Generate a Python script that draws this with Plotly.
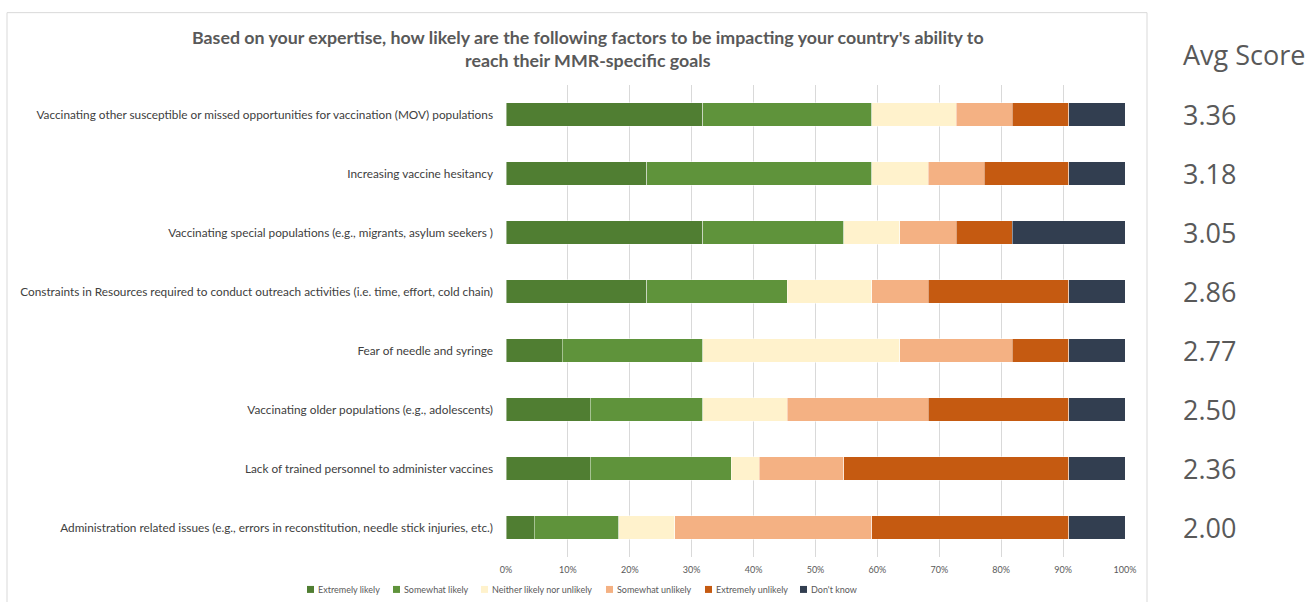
import plotly.graph_objects as go

# Survey factors (top to bottom as displayed)
factors = [
    "Vaccinating other susceptible or missed opportunities for vaccination (MOV) populations",
    "Increasing vaccine hesitancy",
    "Vaccinating special populations (e.g., migrants, asylum seekers )",
    "Constraints in Resources required to conduct outreach activities (i.e. time, effort, cold chain)",
    "Fear of needle and syringe",
    "Vaccinating older populations (e.g., adolescents)",
    "Lack of trained personnel to administer vaccines",
    "Administration related issues (e.g., errors in reconstitution, needle stick injuries, etc.)",
]

# Number of respondents choosing each answer (22 respondents per factor)
respondents = 22
extremely_likely = [7, 5, 7, 5, 2, 3, 3, 1]
somewhat_likely = [6, 8, 5, 5, 5, 4, 5, 3]
neither = [3, 2, 2, 3, 7, 3, 1, 2]
somewhat_unlikely = [2, 2, 2, 2, 4, 5, 3, 7]
extremely_unlikely = [2, 3, 2, 5, 2, 5, 8, 7]
dont_know = [2, 2, 4, 2, 2, 2, 2, 2]

avg_scores = ["3.36", "3.18", "3.05", "2.86", "2.77", "2.50", "2.36", "2.00"]

series = [
    ("Extremely likely", extremely_likely, "#507E32"),
    ("Somewhat likely", somewhat_likely, "#5F933B"),
    ("Neither likely nor unlikely", neither, "#FFF2CC"),
    ("Somewhat unlikely", somewhat_unlikely, "#F4B183"),
    ("Extremely unlikely", extremely_unlikely, "#C55A11"),
    ("Don't know", dont_know, "#323E50"),
]

# Figure geometry (pixels)
W, H = 1307, 602
PLOT_L, PLOT_R, PLOT_T, PLOT_B = 506, 1125, 84.5, 557.5


def px_x(px):
    return (px - PLOT_L) / (PLOT_R - PLOT_L)


def px_y(py):
    return (PLOT_B - py) / (PLOT_B - PLOT_T)


fig = go.Figure()
for name, counts, color in series:
    fig.add_trace(go.Bar(
        y=factors,
        x=[c / respondents for c in counts],
        name=name,
        orientation="h",
        showlegend=False,
        marker=dict(color=color, line=dict(color="rgba(255,255,255,0.55)", width=0.8)),
        hovertemplate="%{y}<br>" + name + ": %{x:.1%}<extra></extra>",
    ))

label_font = dict(family="Lato, 'Open Sans', sans-serif", size=11.8, color="#404040")
small_font = dict(family="Lato, sans-serif", size=9, color="#595959")

fig.update_layout(
    barmode="stack",
    bargap=0.6,
    width=W,
    height=H,
    margin=dict(l=PLOT_L, r=W - PLOT_R, t=PLOT_T, b=H - PLOT_B, autoexpand=False),
    paper_bgcolor="white",
    plot_bgcolor="white",
    font=label_font,
    xaxis=dict(
        range=[0, 1],
        tickvals=[i / 10 for i in range(11)],
        tickformat=".0%",
        showgrid=True,
        gridcolor="#D9D9D9",
        gridwidth=1,
        zeroline=False,
        showline=False,
        tickfont=small_font,
        ticklabelstandoff=6,
        fixedrange=True,
    ),
    yaxis=dict(
        autorange="reversed",
        categoryorder="array",
        categoryarray=factors,
        showgrid=False,
        zeroline=False,
        tickfont=label_font,
        ticklabelstandoff=12,
        fixedrange=True,
    ),
)

# Chart frame
fig.add_shape(
    type="rect", xref="paper", yref="paper",
    x0=px_x(7), x1=px_x(1147), y0=px_y(640), y1=px_y(12),
    line=dict(color="#D9D9D9", width=1), fillcolor="rgba(0,0,0,0)", layer="below",
)

# Title
fig.add_annotation(
    text="<b>Based on your expertise, how likely are the following factors to be impacting your country's ability to<br>reach their MMR-specific goals</b>",
    xref="paper", yref="paper", x=px_x(588), y=px_y(47.5),
    xanchor="center", yanchor="middle", showarrow=False, align="center",
    font=dict(family="Lato, sans-serif", size=17.8, color="#595959"),
)

# Legend row beneath the axis
legend_left = [307, 393, 481, 606, 705, 800]
legend_y = 590
for (name, _, color), lx in zip(series, legend_left):
    fig.add_shape(
        type="rect", xref="paper", yref="paper",
        x0=px_x(lx), x1=px_x(lx + 7), y0=px_y(legend_y + 3.5), y1=px_y(legend_y - 3.5),
        line=dict(width=0), fillcolor=color,
    )
    fig.add_annotation(
        text=name, xref="paper", yref="paper", x=px_x(lx + 8.5), y=px_y(legend_y),
        xanchor="left", yanchor="middle", showarrow=False, font=small_font,
    )

# Average score column
score_font = dict(family="'Open Sans', sans-serif", size=27, color="#595959")
fig.add_annotation(
    text="Avg Score", xref="paper", yref="paper",
    x=px_x(1181), y=px_y(54),
    xanchor="left", yanchor="middle", showarrow=False, font=score_font,
)
for factor, score in zip(factors, avg_scores):
    fig.add_annotation(
        text=score, xref="paper", yref="y",
        x=px_x(1181), y=factor,
        xanchor="left", yanchor="middle", showarrow=False, font=score_font,
    )

fig.write_html("out.html")
